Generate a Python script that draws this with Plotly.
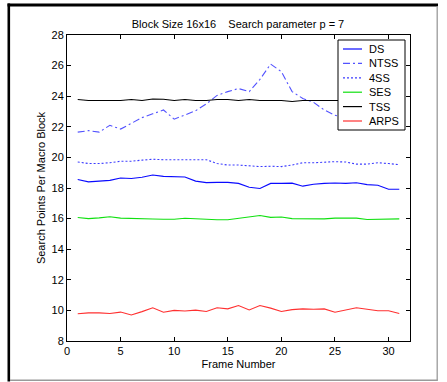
import plotly.graph_objects as go

frames = list(range(1, 32))

ds = [18.56, 18.40, 18.45, 18.50, 18.65, 18.62, 18.70, 18.85, 18.76, 18.72,
      18.72, 18.45, 18.35, 18.37, 18.37, 18.30, 18.05, 17.97, 18.30, 18.30,
      18.32, 18.12, 18.25, 18.30, 18.33, 18.30, 18.34, 18.22, 18.18, 17.92, 17.92]
ntss = [21.65, 21.75, 21.65, 22.10, 21.85, 22.20, 22.60, 22.85, 23.10, 22.50,
        22.75, 23.05, 23.50, 24.05, 24.30, 24.50, 24.30, 25.10, 26.10, 25.60,
        24.30, 23.85, 23.60, 23.10, 22.75, 22.60, 22.45, 22.50, 22.35, 22.25, 22.15]
fss = [19.70, 19.60, 19.60, 19.65, 19.75, 19.75, 19.82, 19.88, 19.85, 19.85,
       19.85, 19.85, 19.85, 19.60, 19.50, 19.50, 19.43, 19.40, 19.42, 19.40,
       19.50, 19.65, 19.65, 19.70, 19.72, 19.70, 19.56, 19.56, 19.65, 19.60, 19.52]
ses = [16.07, 16.00, 16.05, 16.12, 16.03, 16.00, 16.00, 15.97, 15.96, 15.96,
       16.02, 15.98, 15.98, 15.92, 15.92, 16.00, 16.10, 16.20, 16.08, 16.10,
       16.00, 15.98, 15.98, 15.98, 16.03, 16.03, 16.03, 15.94, 15.94, 15.98, 15.98]
tss = [23.78, 23.72, 23.72, 23.72, 23.72, 23.78, 23.72, 23.82, 23.80, 23.72,
       23.78, 23.72, 23.72, 23.78, 23.78, 23.72, 23.78, 23.72, 23.72, 23.72,
       23.65, 23.72, 23.72, 23.72, 23.72, 23.72, 23.72, 23.72, 23.72, 23.72, 23.72]
arps = [9.78, 9.84, 9.84, 9.80, 9.89, 9.70, 9.92, 10.17, 9.88, 10.00,
        9.96, 10.02, 9.93, 10.17, 10.10, 10.32, 10.03, 10.32, 10.15, 9.93,
        10.05, 10.10, 10.08, 10.10, 9.88, 10.00, 10.17, 10.08, 9.98, 9.98, 9.80]

series_names = ["DS", "NTSS", "4SS", "SES", "TSS", "ARPS"]
series_values = [ds, ntss, fss, ses, tss, arps]
series_colors = ["#0a0aff", "#5252ff", "#3c3cff", "#10e010", "#000000", "#ff3030"]
series_dashes = ["solid", "7px,3px,2px,3px", "2px,2px", "solid", "solid", "solid"]

x_ticks = [0, 5, 10, 15, 20, 25, 30]
y_ticks = [8, 10, 12, 14, 16, 18, 20, 22, 24, 26, 28]

title_text = "Block Size 16x16\u00a0\u00a0\u00a0\u00a0Search parameter p = 7"
x_title = "Frame Number"
y_title = "Search Points Per Macro Block"

W, H = 447, 382
ML, MR, MT, MB = 67, 37, 35, 41
PW, PH = W - ML - MR, H - MT - MB
FONT = "Liberation Sans, Arial, sans-serif"


def px(x):
    return (x - ML) / PW


def py(y):
    return (H - MB - y) / PH


fig = go.Figure()
for name, vals, col, dash in zip(series_names, series_values, series_colors, series_dashes):
    fig.add_trace(go.Scatter(x=frames, y=vals, mode="lines", name=name,
                             line=dict(color=col, width=1.1, dash=dash),
                             showlegend=False))

axis_common = dict(showgrid=False, zeroline=False, showline=True, linecolor="#000000",
                   linewidth=1, mirror="ticks", ticks="inside", ticklen=4,
                   tickcolor="#000000", tickwidth=1,
                   tickfont=dict(family=FONT, size=11, color="#000000"))

fig.update_xaxes(range=[0, 32], tickvals=x_ticks,
                 title=dict(text=x_title, font=dict(family=FONT, size=11, color="#000"), standoff=4),
                 **axis_common)
fig.update_yaxes(range=[8, 28], tickvals=y_ticks,
                 title=dict(text=y_title, font=dict(family=FONT, size=11, color="#000"), standoff=3),
                 **axis_common)

shapes = []
# legend box (drawn above the data)
lx0, lx1, ly0, ly1 = 338, 405, 40, 130
shapes.append(dict(type="rect", xref="paper", yref="paper", layer="above",
                   x0=px(lx0), x1=px(lx1), y0=py(ly1), y1=py(ly0),
                   fillcolor="#ffffff", line=dict(color="#000000", width=1)))
annotations = []
for i, (name, col, dash) in enumerate(zip(series_names, series_colors, series_dashes)):
    yy = 49 + i * 14.4
    shapes.append(dict(type="line", xref="paper", yref="paper", layer="above",
                       x0=px(343), x1=px(362), y0=py(yy), y1=py(yy),
                       line=dict(color=col, width=1.2, dash=dash)))
    annotations.append(dict(text=name, xref="paper", yref="paper", x=px(367), y=py(yy),
                            xanchor="left", yanchor="middle", showarrow=False,
                            font=dict(family=FONT, size=11, color="#000000")))

# outer picture frame: dark left/top, grey right/bottom
frame_lines = [
    (8.8, 3.5, 8.8, 381.5, "#000000", 2.6),
    (7.5, 5.0, 438, 5.0, "#000000", 2.8),
    (437.2, 6.0, 437.2, 380.5, "#9a9a9a", 1.3),
    (10.0, 380.2, 437.8, 380.2, "#9a9a9a", 1.6),
]
for x0, y0, x1, y1, col, wd in frame_lines:
    shapes.append(dict(type="line", xref="paper", yref="paper", layer="above",
                       x0=px(x0), x1=px(x1), y0=py(y0), y1=py(y1),
                       line=dict(color=col, width=wd)))

fig.update_layout(
    width=W, height=H,
    margin=dict(l=ML, r=MR, t=MT, b=MB, autoexpand=False),
    paper_bgcolor="#ffffff", plot_bgcolor="#ffffff",
    title=dict(text=title_text, x=px(238), xanchor="center", y=1 - 24 / H, yanchor="middle",
               yref="container", xref="paper",
               font=dict(family=FONT, size=11, color="#000000")),
    shapes=shapes, annotations=annotations,
    showlegend=False,
)

fig.write_html("out.html", config={"displayModeBar": False},
               post_script="document.body.style.margin='0px';document.body.style.padding='0px';")
